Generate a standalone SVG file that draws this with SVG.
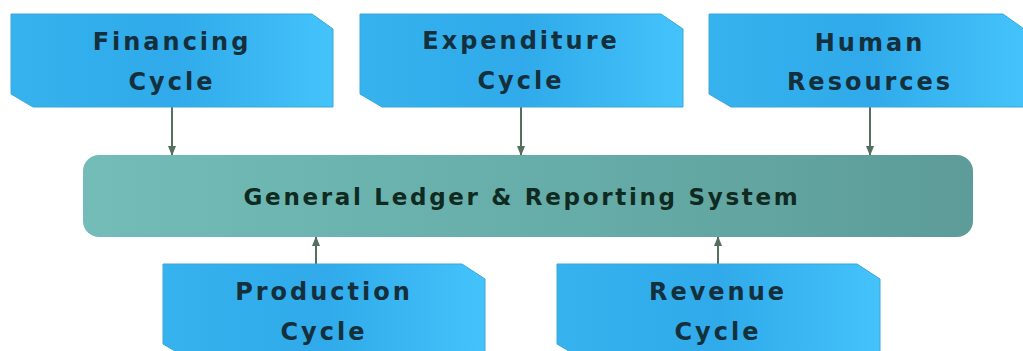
<svg xmlns="http://www.w3.org/2000/svg" width="1023" height="351" viewBox="0 0 1023 351">
<defs>
<linearGradient id="blue" x1="0" y1="0" x2="1" y2="0">
<stop offset="0" stop-color="#36b2ee"/>
<stop offset="0.5" stop-color="#30aaea"/>
<stop offset="1" stop-color="#44c3fb"/>
</linearGradient>
<linearGradient id="teal" x1="0" y1="0" x2="1" y2="0">
<stop offset="0" stop-color="#73bcb8"/>
<stop offset="0.5" stop-color="#67aeaa"/>
<stop offset="1" stop-color="#5d9c98"/>
</linearGradient>
<marker id="ah" viewBox="0 0 10 10" refX="9" refY="5" markerWidth="5" markerHeight="5" orient="auto">
<path d="M0,1 L10,5 L0,9 Z" fill="#55705f"/>
</marker>
<style>
.box{fill:url(#blue);stroke:#3aa6d8;stroke-width:1}
.t{font-family:"DejaVu Sans","Liberation Sans",sans-serif;font-weight:bold;font-size:24px;fill:#14303c;text-anchor:middle;letter-spacing:3px}
.lt{font-family:"DejaVu Sans","Liberation Sans",sans-serif;font-weight:bold;font-size:23px;fill:#0f2a20;text-anchor:middle;letter-spacing:2.7px}
.c{stroke:#55705f;stroke-width:2;fill:none;marker-end:url(#ah)}
</style>
</defs>
<rect width="1023" height="351" fill="#ffffff"/>
<g id="connectors">
<line class="c" x1="172" y1="107" x2="172" y2="155"/>
<line class="c" x1="521" y1="107" x2="521" y2="155"/>
<line class="c" x1="870" y1="107" x2="870" y2="155"/>
<line class="c" x1="316" y1="264" x2="316" y2="237"/>
<line class="c" x1="718" y1="264" x2="718" y2="237"/>
</g>
<g id="financing">
<path class="box" d="M11,14 H312 L333,29 V107 H33 L11,94 Z"/>
<text class="t" x="172" y="50">Financing</text>
<text class="t" x="172" y="90">Cycle</text>
</g>
<g id="expenditure">
<path class="box" d="M360,14 H661 L683,29 V107 H382 L360,94 Z"/>
<text class="t" x="521" y="49">Expenditure</text>
<text class="t" x="521" y="89">Cycle</text>
</g>
<g id="human-resources">
<path class="box" d="M709,14 H1003 L1024,29 V107 H731 L709,94 Z"/>
<text class="t" x="870" y="51">Human</text>
<text class="t" x="870" y="90">Resources</text>
</g>
<g id="ledger">
<rect x="83" y="155" width="890" height="82" rx="16" fill="url(#teal)"/>
<text class="lt" x="522" y="205">General Ledger &amp; Reporting System</text>
</g>
<g id="production">
<path class="box" d="M163,264 H462 L485,279 V357 H185 L163,344 Z"/>
<text class="t" x="324" y="300">Production</text>
<text class="t" x="324" y="340">Cycle</text>
</g>
<g id="revenue">
<path class="box" d="M557,264 H857 L880,279 V357 H579 L557,344 Z"/>
<text class="t" x="718" y="300">Revenue</text>
<text class="t" x="718" y="340">Cycle</text>
</g>
</svg>
